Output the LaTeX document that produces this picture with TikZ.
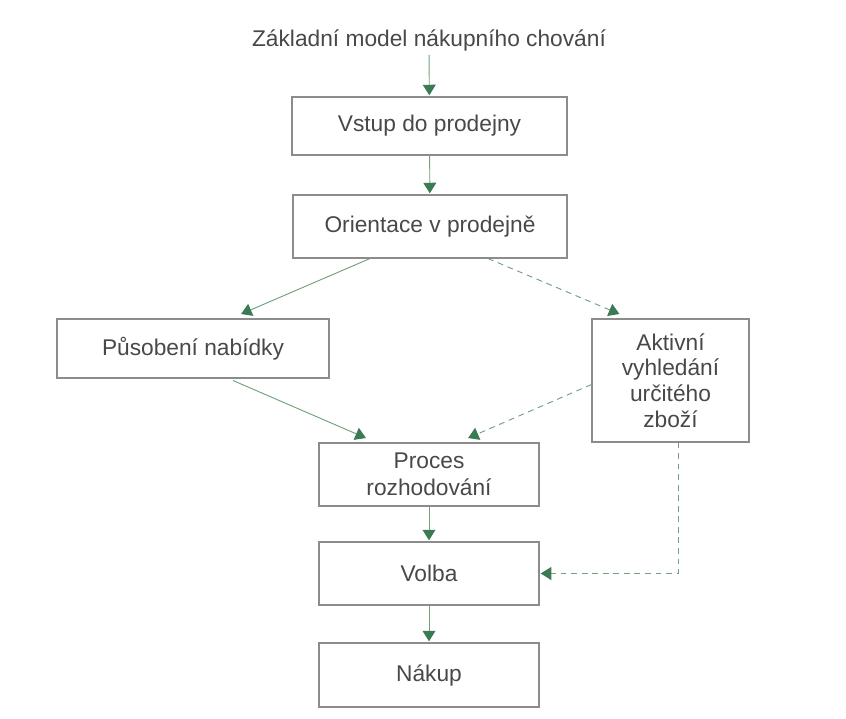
\documentclass[tikz,border=0pt]{standalone}
\usepackage{fontspec}
\setmainfont{Liberation Sans}
\usetikzlibrary{arrows.meta,calc}
\definecolor{linegreen}{RGB}{112,162,124}
\definecolor{tipgreen}{RGB}{58,122,84}
\definecolor{boxgray}{RGB}{140,140,140}
\definecolor{textgray}{RGB}{72,72,72}

\tikzset{
  box/.style={draw=boxgray, line width=0.9pt, text=textgray, align=center, inner sep=0pt},
  flow/.style={draw=linegreen, line width=0.8pt, -{Triangle[length=9pt,width=11pt,color=tipgreen]}, shorten >=1pt},
  flowdash/.style={flow, dash pattern=on 5pt off 4pt}
}

\begin{document}
\begin{tikzpicture}[x=0.03cm, y=-0.03cm, font=\fontsize{19.4}{22}\selectfont]
  \useasboundingbox (0,0) rectangle (846,718);
  \node[text=textgray] (title) at (429,40) {Základní model nákupního chování};
  \node[box, minimum width=275*0.03cm, minimum height=58*0.03cm] (vstup) at (429.5,126) {Vstup do prodejny};
  \node[box, minimum width=274*0.03cm, minimum height=63*0.03cm] (orient) at (430,226.5) {Orientace v prodejně};
  \node[box, minimum width=272*0.03cm, minimum height=59*0.03cm] (pusob) at (193,348.5) {Působení nabídky};
  \node[box, minimum width=157*0.03cm, minimum height=123*0.03cm] (aktiv) at (670.5,380.5) {Aktivní\\vyhledání\\určitého\\zboží};
  \node[box, minimum width=220*0.03cm, minimum height=63*0.03cm] (proces) at (429,474.5) {Proces\\[1pt]rozhodování};
  \node[box, minimum width=220*0.03cm, minimum height=63*0.03cm] (volba) at (429,573.5) {Volba};
  \node[box, minimum width=220*0.03cm, minimum height=64*0.03cm] (nakup) at (429,675) {Nákup};

  % solid flow
  \draw[flow] (title) -- (vstup);
  \draw[flow] (vstup) -- (orient);
  \draw[flow] ($(orient.south)+(-60,0)$) -- ($(pusob.north)+(47,-4)$);
  \draw[flow] ($(pusob.south)+(40,2)$) -- ($(proces.north)+(-62,-4)$);
  \draw[flow] (proces) -- (volba);
  \draw[flow] (volba) -- (nakup);

  % dashed flow
  \draw[flowdash] ($(orient.south)+(58,0)$) -- ($(aktiv.north)+(-50,-4)$);
  \draw[flowdash] ($(aktiv.west)+(0,4)$) -- ($(proces.north)+(38,-4)$);
  \draw[flowdash] ($(aktiv.south)+(7.5,0)$) |- (volba.east);
\end{tikzpicture}
\end{document}
